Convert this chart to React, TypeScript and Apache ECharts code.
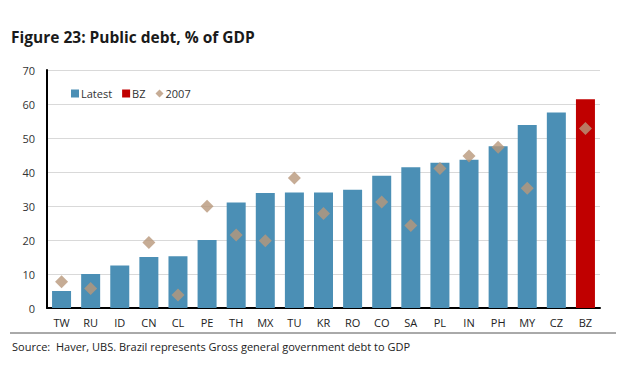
import React, { useEffect, useRef } from "react";
import * as echarts from "echarts";

const categories = ["TW", "RU", "ID", "CN", "CL", "PE", "TH", "MX", "TU", "KR", "RO", "CO", "SA", "PL", "IN", "PH", "MY", "CZ", "BZ"];
const latest = [5, 10, 12.5, 15, 15.2, 20, 31, 33.8, 34, 34, 34.8, 38.9, 41.4, 42.7, 43.6, 47.6, 53.8, 57.5, null];
const bz = [null, null, null, null, null, null, null, null, null, null, null, null, null, null, null, null, null, null, 61.4];
const y2007 = [7.7, 5.7, null, 19.3, 3.8, 29.9, 21.5, 19.8, 38.2, 27.8, null, 31.2, 24.3, 41, 44.7, 47.3, 35.2, null, 52.8];
const yTicks = [0, 10, 20, 30, 40, 50, 60, 70];

const FONT = "'Open Sans', 'DejaVu Sans', sans-serif";

export default function App() {
  const ref = useRef<HTMLDivElement>(null);
  useEffect(() => {
    const chart = echarts.init(ref.current!, null, { renderer: "svg" });
    chart.setOption({
      animation: false,
      backgroundColor: "#ffffff",
      textStyle: { fontFamily: FONT },
      title: {
        text: "Figure 23: Public debt, % of GDP",
        left: 6,
        top: 24,
        textStyle: { fontSize: 15.5, fontWeight: "bold", color: "#1a1a1a", fontFamily: FONT },
      },
      legend: {
        left: 66,
        top: 83,
        itemWidth: 8,
        itemHeight: 8,
        itemGap: 10,
        textStyle: { fontSize: 11, color: "#333", fontFamily: FONT, padding: [0, 0, 0, -3] },
        data: [
          { name: "Latest", icon: "rect" },
          { name: "BZ", icon: "rect" },
          { name: "2007", icon: "diamond" },
        ],
      },
      grid: { left: 47, right: 20, top: 70, bottom: 60 },
      xAxis: {
        type: "category",
        data: categories,
        axisLine: { lineStyle: { color: "#000", width: 2 } },
        axisTick: { show: false },
        axisLabel: { fontSize: 11, color: "#222", margin: 9, fontFamily: FONT },
      },
      yAxis: {
        type: "value",
        min: 0,
        max: 70,
        interval: 10,
        axisLine: { show: true, lineStyle: { color: "#000", width: 2 } },
        axisTick: { show: false },
        axisLabel: {
          fontSize: 11,
          color: "#333",
          margin: 12,
          fontFamily: FONT,
          formatter: (v: number) => (yTicks.includes(v) ? String(v) : ""),
        },
        splitLine: { lineStyle: { color: "#d9d9d9", width: 1 } },
      },
      series: [
        {
          name: "Latest",
          type: "bar",
          data: latest,
          barWidth: 19,
          barGap: "-100%",
          itemStyle: { color: "#4b8fb5" },
        },
        {
          name: "BZ",
          type: "bar",
          data: bz,
          barWidth: 19,
          barGap: "-100%",
          itemStyle: { color: "#c00000" },
        },
        {
          name: "2007",
          type: "scatter",
          data: y2007,
          symbol: "diamond",
          symbolSize: [13, 13],
          itemStyle: { color: "#b8977b" },
          z: 5,
        },
      ],
      graphic: [
        {
          type: "line",
          shape: { x1: 10, y1: 333, x2: 616, y2: 333 },
          style: { stroke: "#555", lineWidth: 1 },
        },
        {
          type: "text",
          left: 12,
          top: 341,
          style: {
            text: "Source:  Haver, UBS. Brazil represents Gross general government debt to GDP",
            fontSize: 11,
            fill: "#222",
            fontFamily: FONT,
          },
        },
      ],
    });
    return () => chart.dispose();
  }, []);
  return <div ref={ref} style={{ width: 620, height: 368, position: "absolute", left: 0, top: 0 }} />;
}
